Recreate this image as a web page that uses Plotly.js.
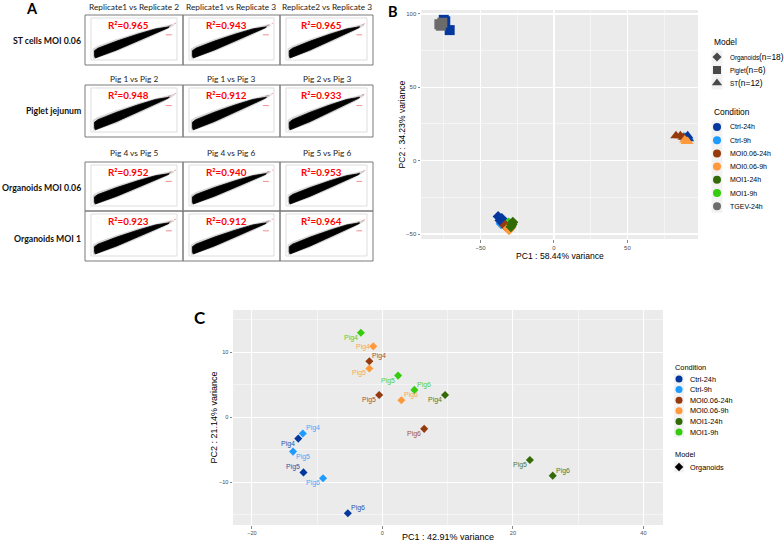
<!DOCTYPE html>
<html>
<head>
<meta charset="utf-8">
<script src="https://cdn.plot.ly/plotly-3.0.1.min.js"></script>
<style>html,body{margin:0;padding:0;background:#fff}</style>
</head>
<body>
<div id="fig" style="width:784px;height:543px"></div>
<script>
// ---------- Panel A: pairwise replicate correlations ----------
const rowLabels = ['ST cells MOI 0.06', 'Piglet jejunum', 'Organoids MOI 0.06', 'Organoids MOI 1'];
const headerRow1 = ['Replicate1 vs Replicate 2', 'Replicate1 vs Replicate 3', 'Replicate2 vs Replicate 3'];
const headerRow2 = ['Pig 1 vs Pig 2', 'Pig 1 vs Pig 3', 'Pig 2 vs Pig 3'];
const headerRow3 = ['Pig 4 vs Pig 5', 'Pig 4 vs Pig 6', 'Pig 5 vs Pig 6'];
const rSquared = [
  [0.965, 0.943, 0.965],
  [0.948, 0.912, 0.933],
  [0.952, 0.940, 0.953],
  [0.923, 0.912, 0.964]
];
// outline of the dense expression cloud, in unit coordinates of each small plot
const cloudU = [0.05, 0.30, 0.55, 0.75, 0.90, 0.91, 0.75, 0.55, 0.30, 0.08, 0.04, 0.04, 0.05];
const cloudV = [0.05, 0.24, 0.46, 0.63, 0.77, 0.79, 0.74, 0.62, 0.45, 0.28, 0.22, 0.10, 0.05];
// sparser fringe of points around the cloud
const fringeU = [0.03, 0.30, 0.60, 0.85, 0.97, 0.95, 0.80, 0.55, 0.30, 0.08, 0.02, 0.02, 0.03];
const fringeV = [0.02, 0.20, 0.46, 0.69, 0.83, 0.86, 0.79, 0.66, 0.50, 0.34, 0.27, 0.08, 0.02];
const fitU = [0.06, 0.99];
const fitV = [0.10, 0.88];
const keyU = [0.87, 0.94];
const keyV = [0.60, 0.60];

// ---------- Panel B: PCA of all samples ----------
const conditions = ['Ctrl-24h', 'Ctrl-9h', 'MOI0.06-24h', 'MOI0.06-9h', 'MOI1-24h', 'MOI1-9h', 'TGEV-24h'];
const conditionColors = ['#05389e', '#1e9bff', '#963a0c', '#ff9a3c', '#336a05', '#35cc0e', '#6b6b6b'];
const models = ['Organoids', 'Piglet', 'ST'];
const modelCounts = ['(n=18)', '(n=6)', '(n=12)'];
const modelSymbols = ['diamond', 'square', 'triangle-up'];

const allModel = [
  'Organoids','Organoids','Organoids','Organoids','Organoids','Organoids',
  'Organoids','Organoids','Organoids','Organoids','Organoids','Organoids',
  'Organoids','Organoids','Organoids','Organoids','Organoids','Organoids',
  'Piglet','Piglet','Piglet','Piglet','Piglet','Piglet',
  'ST','ST','ST','ST','ST','ST','ST','ST','ST','ST','ST','ST'
];
const allCondition = [
  'MOI1-9h','MOI1-9h','MOI1-9h',
  'Ctrl-9h','Ctrl-9h','Ctrl-9h',
  'Ctrl-24h','Ctrl-24h','Ctrl-24h',
  'MOI0.06-24h','MOI0.06-24h','MOI0.06-24h',
  'MOI0.06-9h','MOI0.06-9h','MOI0.06-9h',
  'MOI1-24h','MOI1-24h','MOI1-24h',
  'Ctrl-24h','Ctrl-24h','TGEV-24h','TGEV-24h','TGEV-24h','Ctrl-24h',
  'Ctrl-9h','Ctrl-9h','Ctrl-9h',
  'Ctrl-24h','Ctrl-24h','Ctrl-24h',
  'MOI0.06-9h','MOI0.06-9h','MOI0.06-9h',
  'MOI0.06-24h','MOI0.06-24h','MOI0.06-24h'
];
const allPC1 = [
  -30.0, -29.5, -31.0,
  -36.0, -34.0, -35.4,
  -38.0, -35.5, -36.7,
  -33.3, -31.3, -32.7,
  -30.6, -30.0, -31.3,
  -28.0, -28.6, -29.3,
  -75.0, -74.0, -78.0, -77.0, -76.0, -71.0,
  90.0, 89.0, 91.0,
  91.0, 90.0, 91.5,
  90.0, 91.0, 89.0,
  83.0, 86.0, 88.0
];
const allPC2 = [
  -43.0, -44.5, -42.5,
  -43.0, -43.5, -42.2,
  -38.0, -39.5, -40.8,
  -44.2, -45.6, -44.9,
  -47.0, -46.3, -46.3,
  -42.0, -43.5, -45.0,
  96.0, 95.0, 93.0, 92.0, 94.0, 89.0,
  15.0, 16.0, 16.0,
  17.0, 16.0, 15.0,
  13.0, 13.0, 14.0,
  17.0, 17.0, 16.0
];

// ---------- Panel C: PCA of organoid samples ----------
const orgConditions = ['Ctrl-24h', 'Ctrl-9h', 'MOI0.06-24h', 'MOI0.06-9h', 'MOI1-24h', 'MOI1-9h'];
const orgCondition = [
  'MOI1-9h','MOI0.06-9h','MOI0.06-24h','MOI0.06-9h','MOI1-9h','MOI1-9h',
  'MOI0.06-9h','MOI0.06-24h','MOI1-24h','MOI0.06-24h','Ctrl-9h','Ctrl-24h',
  'Ctrl-9h','Ctrl-24h','Ctrl-9h','Ctrl-24h','MOI1-24h','MOI1-24h'
];
const orgPig = [
  'Pig4','Pig4','Pig4','Pig5','Pig5','Pig6',
  'Pig6','Pig5','Pig4','Pig6','Pig4','Pig4',
  'Pig5','Pig5','Pig6','Pig6','Pig5','Pig6'
];
const orgPC1 = [
  -3.3, -1.4, -2.0, -2.0, 2.4, 4.9,
  2.9, -0.5, 9.6, 6.4, -12.2, -12.9,
  -13.7, -12.1, -9.1, -5.3, 22.6, 26.1
];
const orgPC2 = [
  13.0, 10.9, 8.6, 7.5, 6.4, 4.2,
  2.6, 3.4, 3.4, -1.8, -2.5, -3.3,
  -5.3, -8.5, -9.4, -14.8, -6.6, -9.0
];
// side of each point on which its pig label sits
const labelSide = [
  'bottom left','middle left','top right','bottom left','bottom left','top right',
  'top right','bottom left','bottom left','bottom left','top right','bottom left',
  'bottom right','top left','bottom left','top right','bottom left','top right'
];

// ---------- helpers ----------
const W = 784, H = 543;
const px = v => v / W;
const py = v => 1 - v / H;
const colorOf = c => conditionColors[conditions.indexOf(c)];
const sans = 'Liberation Sans, Arial, sans-serif';
const calib = 'Lato, Open Sans, sans-serif';

const traces = [];
const shapes = [];
const annotations = [];
const layout = {
  width: W, height: H,
  margin: {l: 0, r: 0, t: 0, b: 0},
  paper_bgcolor: '#ffffff',
  plot_bgcolor: 'rgba(0,0,0,0)',
  showlegend: false,
  font: {family: sans, color: '#000'}
};

function text(x, y, str, size, opts) {
  annotations.push(Object.assign({
    xref: 'paper', yref: 'paper', x: px(x), y: py(y), text: str,
    showarrow: false, xanchor: 'center', yanchor: 'middle',
    font: {family: sans, size: size, color: '#000'}
  }, opts || {}));
}

// ---------- Panel A layout ----------
const cellX = [[85, 183], [183, 280], [280, 373]];
const cellY = [[15, 65], [85, 137], [162, 211], [211, 261]];
const headers = [headerRow1, headerRow2, headerRow3];
const headerY = [7, 79, 153];
const rowLabelY = [40, 110, 187, 238];

text(32, 9, '<b>A</b>', 14.5, {font: {family: calib, size: 14.5, color: '#000'}});
headers.forEach((row, r) => row.forEach((lab, c) => {
  text((cellX[c][0] + cellX[c][1]) / 2, headerY[r], lab, 8.3, {font: {family: calib, size: 8.3, color: '#222'}});
}));
rowLabels.forEach((lab, r) => {
  text(83, rowLabelY[r], '<b>' + lab + '</b>', 8.7, {xanchor: 'right', font: {family: calib, size: 8.7, color: '#111'}});
});

rSquared.forEach((row, r) => row.forEach((val, c) => {
  const n = 3 + r * 3 + c;
  const xa = 'x' + n, ya = 'y' + n;
  const [x0, x1] = cellX[c], [y0, y1] = cellY[r];
  layout['xaxis' + n] = {domain: [px(x0 + 6), px(x1 - 6)], range: [0, 1], visible: false, fixedrange: true, anchor: ya};
  layout['yaxis' + n] = {domain: [py(y1 - 5), py(y0 + 3)], range: [0, 1], visible: false, fixedrange: true, anchor: xa};
  // outer cell border
  shapes.push({type: 'rect', xref: 'paper', yref: 'paper', x0: px(x0), x1: px(x1), y0: py(y1), y1: py(y0),
    line: {color: '#7a7a7a', width: 1}, fillcolor: 'rgba(0,0,0,0)'});
  // inner plot frame
  shapes.push({type: 'rect', xref: xa + ' domain', yref: ya + ' domain', x0: 0, x1: 1, y0: 0, y1: 1,
    line: {color: '#d0d0d0', width: 0.7}, fillcolor: 'rgba(0,0,0,0)'});
  traces.push({type: 'scatter', mode: 'lines', x: fitU, y: fitV, xaxis: xa, yaxis: ya,
    line: {color: '#e88080', width: 0.7, dash: 'dot'}, hoverinfo: 'skip'});
  traces.push({type: 'scatter', mode: 'lines', x: fringeU, y: fringeV, xaxis: xa, yaxis: ya, fill: 'toself',
    fillcolor: 'rgba(0,0,0,0.16)', line: {width: 0}, hoverinfo: 'skip'});
  traces.push({type: 'scatter', mode: 'lines', x: cloudU, y: cloudV, xaxis: xa, yaxis: ya, fill: 'toself',
    fillcolor: '#000', line: {color: '#000', width: 0.8}, hoverinfo: 'skip'});
  traces.push({type: 'scatter', mode: 'lines', x: keyU, y: keyV, xaxis: xa, yaxis: ya,
    line: {color: '#f07070', width: 0.8}, hoverinfo: 'skip'});
  annotations.push({xref: xa + ' domain', yref: ya + ' domain', x: 0.44, y: 0.83, showarrow: false,
    xanchor: 'center', yanchor: 'middle',
    text: '<b>R²=' + val.toFixed(3) + '</b>', font: {family: calib, size: 9.8, color: '#ff0000'}});
}));

// ---------- Panel B ----------
const gridAxis = (extra) => Object.assign({
  showgrid: true, gridcolor: '#ffffff', gridwidth: 1.1, zeroline: false, showline: false,
  ticks: 'outside', ticklen: 2.5, tickwidth: 0.6, tickcolor: '#333333',
  tickfont: {family: sans, size: 6, color: '#4d4d4d'}, fixedrange: true
}, extra);

layout.xaxis = gridAxis({domain: [px(421), px(698)], range: [-90.5, 98.0], dtick: 50, tick0: 0,
  minor: {dtick: 25, showgrid: true, gridcolor: '#ffffff', gridwidth: 0.5, ticks: ''}, anchor: 'y'});
layout.yaxis = gridAxis({domain: [py(239), py(10)], range: [-53.4, 102.7], dtick: 50, tick0: 0,
  minor: {dtick: 25, showgrid: true, gridcolor: '#ffffff', gridwidth: 0.5, ticks: ''}, anchor: 'x'});
shapes.push({type: 'rect', xref: 'x domain', yref: 'y domain', x0: 0, x1: 1, y0: 0, y1: 1,
  fillcolor: '#ebebeb', line: {width: 0}, layer: 'below'});

const bDrawOrder = ['MOI1-9h', 'Ctrl-9h', 'Ctrl-24h', 'MOI0.06-24h', 'MOI0.06-9h', 'MOI1-24h', 'TGEV-24h'];
const bSizes = {Organoids: 8.5, Piglet: 10, ST: 10};
models.forEach((m, mi) => {
  bDrawOrder.forEach(cond => {
    const idx = allModel.map((v, i) => i).filter(i => allModel[i] === m && allCondition[i] === cond);
    if (!idx.length) return;
    traces.push({type: 'scatter', mode: 'markers', xaxis: 'x', yaxis: 'y',
      x: idx.map(i => allPC1[i]), y: idx.map(i => allPC2[i]),
      marker: {symbol: modelSymbols[mi], size: bSizes[m], color: colorOf(cond), line: {width: 0}},
      name: cond + ' ' + m, hoverinfo: 'x+y+name'});
  });
});
text(393, 12, '<b>B</b>', 14.5, {font: {family: calib, size: 14.5, color: '#000'}});
text(559.5, 256, 'PC1 : 58.44% variance', 8.6);
text(401, 124.5, 'PC2 : 34.23% variance', 8.6, {textangle: -90});

// ---------- Panel C ----------
layout.xaxis2 = gridAxis({domain: [px(233), px(663)], range: [-22.9, 43.0], dtick: 20, tick0: 0,
  minor: {dtick: 10, showgrid: true, gridcolor: '#ffffff', gridwidth: 0.5, ticks: ''}, anchor: 'y2'});
layout.yaxis2 = gridAxis({domain: [py(525), py(310)], range: [-16.6, 16.5], dtick: 10, tick0: 0,
  minor: {dtick: 5, showgrid: true, gridcolor: '#ffffff', gridwidth: 0.5, ticks: ''}, anchor: 'x2'});
layout.xaxis2.tickfont = {family: sans, size: 5.6, color: '#4d4d4d'};
layout.yaxis2.tickfont = {family: sans, size: 5.6, color: '#4d4d4d'};
shapes.push({type: 'rect', xref: 'x2 domain', yref: 'y2 domain', x0: 0, x1: 1, y0: 0, y1: 1,
  fillcolor: '#ebebeb', line: {width: 0}, layer: 'below'});

orgConditions.forEach(cond => {
  const idx = orgCondition.map((v, i) => i).filter(i => orgCondition[i] === cond);
  traces.push({type: 'scatter', mode: 'markers', xaxis: 'x2', yaxis: 'y2',
    x: idx.map(i => orgPC1[i]), y: idx.map(i => orgPC2[i]),
    marker: {symbol: 'diamond', size: 6.2, color: colorOf(cond), line: {width: 0}},
    name: cond, hoverinfo: 'x+y+name'});
});
const sideShift = {
  'bottom left': [-10, -5], 'middle left': [-10, -1], 'top right': [10, 5],
  'bottom right': [10, -5], 'top left': [-10, 5]
};
orgPig.forEach((pig, i) => {
  const s = sideShift[labelSide[i]];
  annotations.push({xref: 'x2', yref: 'y2', x: orgPC1[i], y: orgPC2[i], text: pig, showarrow: false,
    xanchor: 'center', yanchor: 'middle',
    xshift: s[0], yshift: s[1], font: {family: sans, size: 7, color: colorOf(orgCondition[i])}, opacity: 0.85});
});
text(200, 317, '<b>C</b>', 17, {font: {family: calib, size: 17, color: '#000'}});
text(448, 537, 'PC1 : 42.91% variance', 9);
text(213, 417.5, 'PC2 : 21.14% variance', 9, {textangle: -90});

// ---------- Legends (drawn on a page-sized overlay axis) ----------
layout.xaxis15 = {domain: [0, 1], range: [0, W], visible: false, fixedrange: true, anchor: 'y15'};
layout.yaxis15 = {domain: [0, 1], range: [H, 0], visible: false, fixedrange: true, anchor: 'x15'};

function legendKeys(x, ys, w, h, symbols, colors, sizes) {
  ys.forEach(y => shapes.push({type: 'rect', xref: 'paper', yref: 'paper',
    x0: px(x - w / 2), x1: px(x + w / 2), y0: py(y + h / 2), y1: py(y - h / 2),
    fillcolor: '#f2f2f2', line: {width: 0}, layer: 'below'}));
  traces.push({type: 'scatter', mode: 'markers', xaxis: 'x15', yaxis: 'y15',
    x: ys.map(() => x), y: ys,
    marker: {symbol: symbols, color: colors, size: sizes, line: {width: 0}}, hoverinfo: 'skip'});
}

// Panel B legend: Model then Condition
text(712, 42, 'Model', 8.4, {xanchor: 'left'});
const bModelY = models.map((m, i) => 57 + i * 13);
legendKeys(717, bModelY, 11, 13, modelSymbols, models.map(() => '#000'), [7, 8, 9]);
models.forEach((m, i) => text(728, bModelY[i], '<span style="font-size:6.3px">' + m + '</span>' + modelCounts[i], 8.4, {xanchor: 'left'}));

text(712, 112, 'Condition', 8.4, {xanchor: 'left'});
const bCondY = conditions.map((c, i) => 127 + i * 13.2);
legendKeys(717, bCondY, 11, 13.2, 'circle', conditionColors, 8);
conditions.forEach((c, i) => text(728, bCondY[i], c, 7, {xanchor: 'left'}));

// Panel C legend: Condition then Model
text(673, 367, 'Condition', 7.4, {xanchor: 'left'});
const cCondY = orgConditions.map((c, i) => 379 + i * 10.6);
legendKeys(679, cCondY, 10, 10.6, 'circle', orgConditions.map(colorOf), 7);
orgConditions.forEach((c, i) => text(688, cCondY[i], c, 7.3, {xanchor: 'left'}));

text(673, 454, 'Model', 7.4, {xanchor: 'left'});
legendKeys(679, [467], 10, 10.6, 'diamond', '#000', 6.5);
text(688, 467, 'Organoids', 7.3, {xanchor: 'left'});

layout.shapes = shapes;
layout.annotations = annotations;
Plotly.newPlot('fig', traces, layout, {staticPlot: true, displayModeBar: false});
</script>
</body>
</html>
